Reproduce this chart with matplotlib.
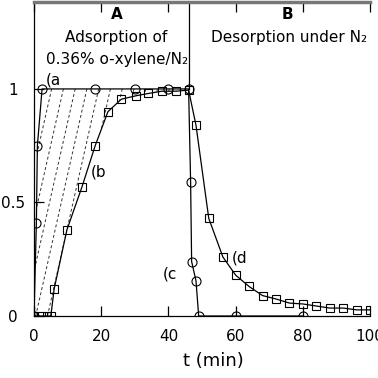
import matplotlib
matplotlib.use('Agg')
import matplotlib.pyplot as plt
import numpy as np

# (a) o-xylene, circles: adsorption then desorption
t_a = [0, 0.7, 1.0, 2.4, 18, 30, 40, 46, 46.6, 46.9, 48.2, 49, 60, 80]
c_a = [0, 0.41, 0.75, 1.0, 1.0, 1.0, 1.0, 1.0, 0.59, 0.24, 0.155, 0.0, 0.0, 0.0]

# (b) squares
t_b = [0, 2, 4, 5, 6, 9.8, 14.3, 18.2, 22, 26, 30.4, 34, 38, 42.3, 46,
       48.2, 52, 56.2, 60, 64, 68, 72, 76, 80, 84, 88, 92, 96, 100]
c_b = [0, 0, 0, 0, 0.12, 0.38, 0.57, 0.75, 0.90, 0.955, 0.97, 0.98, 0.99, 0.99, 0.995,
       0.84, 0.43, 0.26, 0.18, 0.13, 0.09, 0.075, 0.057, 0.053, 0.044, 0.035, 0.035, 0.027, 0.027]

T_SWITCH = 46
xticks = [0, 20, 40, 60, 80, 100]
yticks = [0, 0.5, 1]
ytick_labels = ['0', '0.5', '1']

fig = plt.figure(figsize=(3.78, 3.78), dpi=100)
ax = fig.add_axes([0.090, 0.164, 0.889, 0.832])

# hatched area between the two adsorption curves
ta = np.array(t_a); ca = np.array(c_a)
tb = np.array(t_b); cb = np.array(c_b)
ma = ta <= T_SWITCH
mb = tb <= T_SWITCH
poly_x = np.concatenate([ta[ma], tb[mb][::-1]])
poly_y = np.concatenate([ca[ma], cb[mb][::-1]])
patch = ax.fill(poly_x, poly_y, facecolor='none', edgecolor='none')[0]
for c in np.arange(-17, 50, 3.5):
    ln, = ax.plot([c, c + 16], [0, 1.05], color='#333333', lw=0.7,
                  ls=(0, (3, 2.5)), zorder=1)
    ln.set_clip_path(patch)

ax.plot(t_a, c_a, color='black', lw=0.9, marker='o', ms=6.5,
        mfc='none', mec='black', mew=0.8, zorder=3)
ax.plot(t_b, c_b, color='black', lw=0.9, marker='s', ms=5.5,
        mfc='none', mec='black', mew=0.8, zorder=3)

# A / B separator
ax.plot([T_SWITCH, T_SWITCH], [1.0, 1.5], color='black', lw=0.9)

ax.text(24.7, 1.328, 'A', ha='center', va='center', fontsize=11, fontweight='bold')
ax.text(24.3, 1.228, 'Adsorption of', ha='center', va='center', fontsize=11)
ax.text(24.7, 1.129, '0.36% o-xylene/N₂', ha='center', va='center', fontsize=11)
ax.text(75.3, 1.328, 'B', ha='center', va='center', fontsize=11, fontweight='bold')
ax.text(75.9, 1.226, 'Desorption under N₂', ha='center', va='center', fontsize=11)

ax.text(3.4, 1.04, '(a', ha='left', va='center', fontsize=11)
ax.text(17.0, 0.635, '(b', ha='left', va='center', fontsize=11)
ax.text(38.2, 0.185, '(c', ha='left', va='center', fontsize=11)
ax.text(58.7, 0.256, '(d', ha='left', va='center', fontsize=11)

ax.set_xlim(0, 100)
ax.set_ylim(0, 1.385)
ax.set_xticks(xticks)
ax.set_yticks(yticks)
ax.set_yticklabels(ytick_labels)
for lab in ax.get_yticklabels():
    lab.set_ha('center')
ax.tick_params(axis='x', direction='in', length=7, width=0.9, labelsize=11, pad=9.5,
               top=True)
ax.tick_params(axis='y', direction='in', length=7, width=0.9, labelsize=11, pad=15)
ax.xaxis.set_tick_params(which='major', labeltop=False)

ax.set_xlabel('t (min)', fontsize=13)
ax.xaxis.set_label_coords(0.534, -0.115)

ax.spines['right'].set_visible(False)
ax.spines['top'].set_color('#777777')
ax.spines['top'].set_linewidth(2.5)
ax.spines['left'].set_linewidth(0.9)
ax.spines['bottom'].set_linewidth(0.9)

plt.savefig('out.png', dpi=100)
